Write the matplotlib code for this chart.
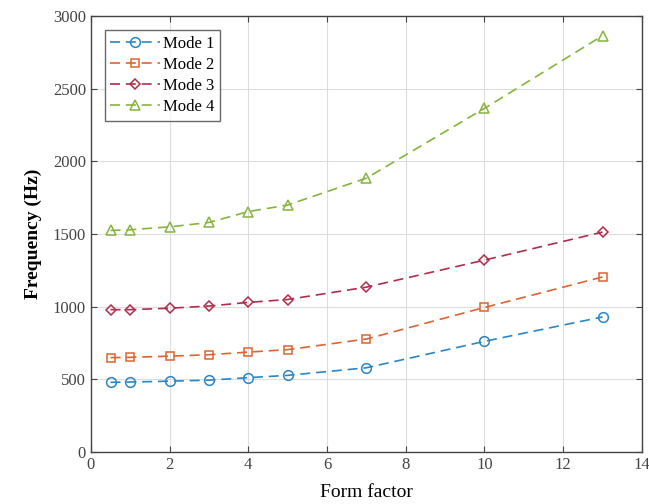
import matplotlib
matplotlib.use("Agg")
import matplotlib.pyplot as plt

plt.rcParams['font.family'] = ['Liberation Serif', 'DejaVu Serif']

# form factor values
x = [0.5, 1, 2, 3, 4, 5, 7, 10, 13]

# frequencies (Hz) for each mode
mode1 = [480, 482, 488, 495, 512, 528, 580, 762, 930]
mode2 = [650, 652, 660, 670, 688, 705, 778, 995, 1205]
mode3 = [980, 980, 990, 1005, 1030, 1050, 1135, 1321, 1514]
mode4 = [1525, 1530, 1550, 1580, 1655, 1700, 1885, 2365, 2865]

labels = ['Mode 1', 'Mode 2', 'Mode 3', 'Mode 4']
colors = ['#2a86c8', '#dc6430', '#b02e4c', '#86b440']
markers = ['o', 's', 'D', '^']
msizes = [7, 5.5, 5.5, 7.5]

fig = plt.figure(figsize=(6.49, 5.04), dpi=100)
ax = fig.add_axes([0.140, 0.103, 0.849, 0.865])

for ys, lab, c, m, ms in zip([mode1, mode2, mode3, mode4], labels, colors, markers, msizes):
    ax.plot(x, ys, linestyle=(0, (6, 3.5)), color=c, marker=m, markersize=ms,
            fillstyle='none', markeredgewidth=1.1, linewidth=1.2, label=lab)

ax.set_xlim(0, 14)
ax.set_ylim(0, 3000)
ax.set_xticks(range(0, 15, 2))
ax.set_yticks(range(0, 3001, 500))
ax.grid(True, color='#dddddd', linewidth=0.8)
ax.set_axisbelow(True)
ax.tick_params(direction='in', length=4, labelsize=12, colors='#444444',
               top=True, right=True, labelcolor='#444444')
for s in ax.spines.values():
    s.set_color('#444444')
    s.set_linewidth(1.0)

ax.set_xlabel('Form factor', fontsize=14, labelpad=8)
ax.set_ylabel('Frequency (Hz)', fontsize=14, fontweight='bold', labelpad=8)

leg = ax.legend(loc='upper left', fontsize=12, frameon=True, fancybox=False,
                edgecolor='#444444', handlelength=3.0, handletextpad=0.15,
                borderpad=0.35, labelspacing=0.3, borderaxespad=0,
                bbox_to_anchor=(0.025, 0.968))
leg.get_frame().set_linewidth(1.0)

fig.savefig('out.png', dpi=100)
